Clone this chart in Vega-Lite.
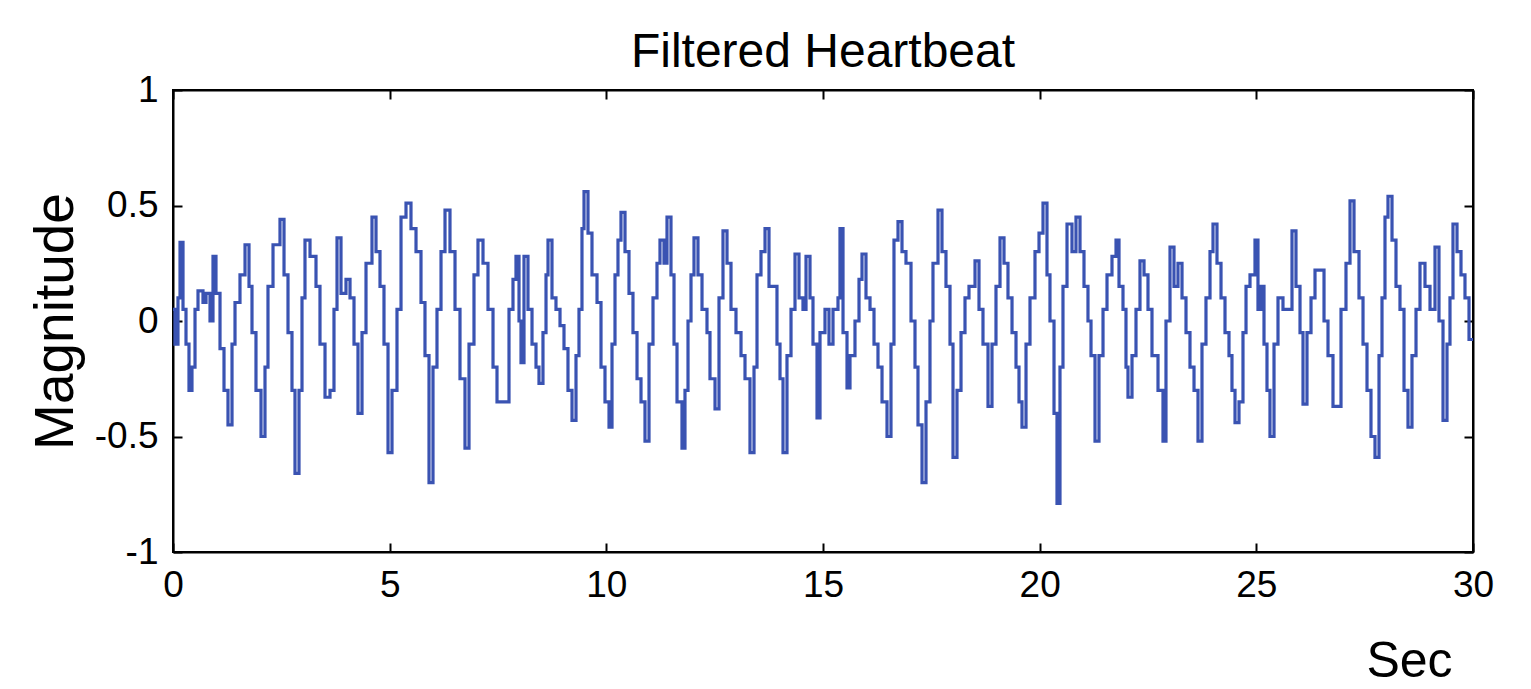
{
  "$schema": "https://vega.github.io/schema/vega-lite/v6.json",
  "width": 1300,
  "height": 462,
  "autosize": "none",
  "padding": {"left": 173, "top": 90, "right": 58, "bottom": 137},
  "background": "white",
  "title": {"text": "Filtered Heartbeat", "font": "Liberation Sans", "fontSize": 48, "fontWeight": "normal", "color": "black", "offset": -6, "anchor": "middle"},
  "config": {
    "view": {"stroke": "black", "strokeWidth": 2},
    "axis": {"grid": false, "labelFont": "Liberation Sans", "labelFontSize": 37, "labelColor": "black", "titleFont": "Liberation Sans", "titleFontSize": 50, "titleFontWeight": "normal", "titleColor": "black", "domainColor": "black", "domainWidth": 2, "tickColor": "black", "tickWidth": 2, "tickSize": -9}
  },
  "data": {"values": [
    {"t":0,"v":0.05},{"t":0.046,"v":-0.1},{"t":0.115,"v":0.1},{"t":0.162,"v":0.34},{"t":0.231,"v":0.05},{"t":0.3,"v":-0.1},{"t":0.369,"v":-0.3},{"t":0.438,"v":-0.2},{"t":0.508,"v":0.05},{"t":0.577,"v":0.13},{"t":0.692,"v":0.08},{"t":0.762,"v":0.12},{"t":0.854,"v":0.0},{"t":0.923,"v":0.28},{"t":0.992,"v":0.12},{"t":1.085,"v":-0.12},{"t":1.177,"v":-0.3},{"t":1.269,"v":-0.45},{"t":1.362,"v":-0.1},{"t":1.431,"v":0.08},{"t":1.546,"v":0.2},{"t":1.662,"v":0.33},{"t":1.754,"v":0.15},{"t":1.823,"v":-0.05},{"t":1.915,"v":-0.3},{"t":2.031,"v":-0.5},{"t":2.123,"v":-0.2},{"t":2.192,"v":0.15},{"t":2.308,"v":0.33},{"t":2.469,"v":0.44},{"t":2.562,"v":0.2},{"t":2.654,"v":-0.05},{"t":2.746,"v":-0.3},{"t":2.815,"v":-0.66},{"t":2.908,"v":-0.3},{"t":2.977,"v":0.1},{"t":3.046,"v":0.35},{"t":3.162,"v":0.28},{"t":3.3,"v":0.15},{"t":3.392,"v":-0.1},{"t":3.508,"v":-0.33},{"t":3.623,"v":-0.3},
    {"t":3.715,"v":0.05},{"t":3.785,"v":0.36},{"t":3.877,"v":0.12},{"t":3.992,"v":0.18},{"t":4.085,"v":0.1},{"t":4.177,"v":-0.1},{"t":4.269,"v":-0.4},{"t":4.362,"v":-0.05},{"t":4.454,"v":0.25},{"t":4.592,"v":0.45},{"t":4.685,"v":0.3},{"t":4.777,"v":0.15},{"t":4.869,"v":-0.1},{"t":4.962,"v":-0.57},{"t":5.054,"v":-0.3},{"t":5.169,"v":0.05},{"t":5.262,"v":0.45},{"t":5.377,"v":0.51},{"t":5.492,"v":0.4},{"t":5.608,"v":0.3},{"t":5.723,"v":0.08},{"t":5.815,"v":-0.15},{"t":5.908,"v":-0.7},{"t":6.0,"v":-0.2},{"t":6.092,"v":0.05},{"t":6.185,"v":0.3},{"t":6.277,"v":0.48},{"t":6.392,"v":0.3},{"t":6.508,"v":0.05},{"t":6.623,"v":-0.25},{"t":6.738,"v":-0.55},{"t":6.831,"v":-0.1},{"t":6.946,"v":0.2},{"t":7.038,"v":0.35},{"t":7.154,"v":0.25},{"t":7.269,"v":0.05},{"t":7.385,"v":-0.2},
    {"t":7.477,"v":-0.35},{"t":7.662,"v":-0.35},{"t":7.754,"v":0.05},{"t":7.846,"v":0.18},{"t":7.915,"v":0.28},{"t":7.985,"v":0.0},{"t":8.031,"v":-0.18},{"t":8.1,"v":0.28},{"t":8.192,"v":0.05},{"t":8.285,"v":-0.1},{"t":8.377,"v":-0.2},{"t":8.446,"v":-0.27},{"t":8.538,"v":-0.05},{"t":8.608,"v":0.2},{"t":8.654,"v":0.35},{"t":8.746,"v":0.1},{"t":8.838,"v":0.05},{"t":8.931,"v":-0.02},{"t":9.023,"v":-0.12},{"t":9.115,"v":-0.3},{"t":9.208,"v":-0.43},{"t":9.3,"v":-0.15},{"t":9.369,"v":0.05},{"t":9.438,"v":0.4},{"t":9.485,"v":0.56},{"t":9.577,"v":0.38},{"t":9.669,"v":0.2},{"t":9.785,"v":0.08},{"t":9.877,"v":-0.2},{"t":9.969,"v":-0.35},{"t":10.062,"v":-0.46},{"t":10.131,"v":-0.1},{"t":10.2,"v":0.2},{"t":10.269,"v":0.35},{"t":10.338,"v":0.47},{"t":10.431,"v":0.3},{"t":10.523,"v":0.12},{"t":10.615,"v":-0.05},{"t":10.708,"v":-0.25},{"t":10.8,"v":-0.35},{"t":10.892,"v":-0.52},{"t":10.985,"v":-0.1},{"t":11.077,"v":0.1},{"t":11.169,"v":0.25},{"t":11.238,"v":0.35},
    {"t":11.331,"v":0.25},{"t":11.4,"v":0.45},{"t":11.492,"v":0.2},{"t":11.562,"v":-0.1},{"t":11.631,"v":-0.35},{"t":11.746,"v":-0.55},{"t":11.815,"v":-0.3},{"t":11.885,"v":0.0},{"t":11.954,"v":0.2},{"t":12.023,"v":0.36},{"t":12.115,"v":0.2},{"t":12.208,"v":0.05},{"t":12.323,"v":-0.05},{"t":12.392,"v":-0.25},{"t":12.508,"v":-0.38},{"t":12.6,"v":0.1},{"t":12.692,"v":0.39},{"t":12.785,"v":0.25},{"t":12.877,"v":0.05},{"t":12.992,"v":-0.05},{"t":13.108,"v":-0.15},{"t":13.2,"v":-0.25},{"t":13.315,"v":-0.57},{"t":13.408,"v":-0.2},{"t":13.477,"v":0.2},{"t":13.569,"v":0.3},{"t":13.662,"v":0.4},{"t":13.754,"v":0.15},{"t":13.846,"v":0.15},{"t":13.938,"v":-0.1},{"t":14.008,"v":-0.25},{"t":14.077,"v":-0.57},{"t":14.169,"v":-0.15},{"t":14.262,"v":0.05},{"t":14.354,"v":0.29},{"t":14.446,"v":0.1},{"t":14.538,"v":0.05},{"t":14.608,"v":0.28},{"t":14.7,"v":0.1},{"t":14.769,"v":-0.1},{"t":14.862,"v":-0.42},{"t":14.931,"v":-0.05},{"t":15.046,"v":0.05},
    {"t":15.138,"v":-0.1},{"t":15.231,"v":0.05},{"t":15.346,"v":0.1},{"t":15.392,"v":0.4},{"t":15.462,"v":-0.05},{"t":15.554,"v":-0.29},{"t":15.623,"v":-0.15},{"t":15.738,"v":0.0},{"t":15.831,"v":0.18},{"t":15.9,"v":0.29},{"t":15.992,"v":0.1},{"t":16.085,"v":0.05},{"t":16.177,"v":-0.1},{"t":16.269,"v":-0.2},{"t":16.362,"v":-0.35},{"t":16.477,"v":-0.5},{"t":16.569,"v":-0.1},{"t":16.638,"v":0.35},{"t":16.731,"v":0.43},{"t":16.823,"v":0.3},{"t":16.915,"v":0.25},{"t":17.031,"v":0.0},{"t":17.123,"v":-0.2},{"t":17.192,"v":-0.45},{"t":17.285,"v":-0.7},{"t":17.377,"v":-0.35},{"t":17.469,"v":0.0},{"t":17.538,"v":0.25},{"t":17.654,"v":0.48},{"t":17.746,"v":0.3},{"t":17.838,"v":0.15},{"t":17.931,"v":-0.1},{"t":18.0,"v":-0.59},{"t":18.092,"v":-0.3},{"t":18.185,"v":-0.05},{"t":18.277,"v":0.1},{"t":18.369,"v":0.15},{"t":18.508,"v":0.26},{"t":18.6,"v":0.05},{"t":18.692,"v":-0.1},{"t":18.808,"v":-0.37},{"t":18.9,"v":-0.1},
    {"t":18.992,"v":0.15},{"t":19.085,"v":0.36},{"t":19.177,"v":0.25},{"t":19.269,"v":0.1},{"t":19.362,"v":-0.05},{"t":19.454,"v":-0.2},{"t":19.523,"v":-0.35},{"t":19.592,"v":-0.46},{"t":19.685,"v":-0.1},{"t":19.777,"v":0.1},{"t":19.892,"v":0.3},{"t":19.985,"v":0.38},{"t":20.077,"v":0.51},{"t":20.169,"v":0.2},{"t":20.238,"v":0.0},{"t":20.331,"v":-0.4},{"t":20.4,"v":-0.79},{"t":20.469,"v":-0.2},{"t":20.538,"v":0.15},{"t":20.631,"v":0.42},{"t":20.746,"v":0.3},{"t":20.838,"v":0.45},{"t":20.931,"v":0.3},{"t":21.023,"v":0.15},{"t":21.115,"v":0.0},{"t":21.185,"v":-0.15},{"t":21.277,"v":-0.52},{"t":21.369,"v":-0.15},{"t":21.462,"v":0.05},{"t":21.554,"v":0.2},{"t":21.669,"v":0.28},{"t":21.762,"v":0.35},{"t":21.831,"v":0.15},{"t":21.923,"v":0.05},{"t":21.992,"v":-0.2},{"t":22.038,"v":-0.33},{"t":22.131,"v":-0.15},{"t":22.223,"v":0.05},{"t":22.315,"v":0.26},{"t":22.408,"v":0.2},{"t":22.5,"v":0.05},{"t":22.592,"v":-0.15},
    {"t":22.731,"v":-0.3},{"t":22.846,"v":-0.52},{"t":22.915,"v":0.0},{"t":23.008,"v":0.32},{"t":23.1,"v":0.15},{"t":23.192,"v":0.25},{"t":23.285,"v":0.1},{"t":23.377,"v":-0.05},{"t":23.469,"v":-0.2},{"t":23.562,"v":-0.3},{"t":23.654,"v":-0.52},{"t":23.746,"v":-0.1},{"t":23.838,"v":0.1},{"t":23.931,"v":0.3},{"t":24.0,"v":0.42},{"t":24.092,"v":0.25},{"t":24.185,"v":0.1},{"t":24.277,"v":-0.05},{"t":24.369,"v":-0.15},{"t":24.438,"v":-0.3},{"t":24.508,"v":-0.44},{"t":24.6,"v":-0.35},{"t":24.692,"v":-0.05},{"t":24.762,"v":0.15},{"t":24.854,"v":0.2},{"t":24.969,"v":0.35},{"t":25.038,"v":0.05},{"t":25.108,"v":0.15},{"t":25.177,"v":-0.1},{"t":25.246,"v":-0.3},{"t":25.315,"v":-0.5},{"t":25.408,"v":-0.1},{"t":25.5,"v":0.1},{"t":25.615,"v":0.05},{"t":25.731,"v":0.05},{"t":25.823,"v":0.39},{"t":25.915,"v":0.15},{"t":26.008,"v":-0.05},{"t":26.077,"v":-0.36},{"t":26.169,"v":-0.05},{"t":26.262,"v":0.1},{"t":26.354,"v":0.22},
    {"t":26.469,"v":0.22},{"t":26.562,"v":0.0},{"t":26.654,"v":-0.15},{"t":26.769,"v":-0.37},{"t":26.862,"v":-0.37},{"t":26.954,"v":0.05},{"t":27.069,"v":0.25},{"t":27.162,"v":0.52},{"t":27.254,"v":0.3},{"t":27.369,"v":0.1},{"t":27.462,"v":-0.1},{"t":27.554,"v":-0.3},{"t":27.646,"v":-0.5},{"t":27.738,"v":-0.59},{"t":27.831,"v":-0.15},{"t":27.9,"v":0.1},{"t":27.969,"v":0.45},{"t":28.038,"v":0.54},{"t":28.131,"v":0.35},{"t":28.223,"v":0.15},{"t":28.315,"v":0.05},{"t":28.408,"v":-0.3},{"t":28.5,"v":-0.46},{"t":28.592,"v":-0.15},{"t":28.685,"v":0.05},{"t":28.777,"v":0.25},{"t":28.892,"v":0.15},{"t":29.008,"v":0.05},{"t":29.123,"v":0.32},{"t":29.215,"v":0.0},{"t":29.308,"v":-0.43},{"t":29.4,"v":-0.1},{"t":29.469,"v":0.1},{"t":29.538,"v":0.42},{"t":29.631,"v":0.3},{"t":29.723,"v":0.2},{"t":29.815,"v":0.1},{"t":29.908,"v":-0.08},{"t":30.0,"v":-0.08}
  ]},
  "layer": [
    {
      "mark": {"type": "line", "interpolate": "step-after", "color": "#3a53b2", "strokeWidth": 3.2},
      "encoding": {
        "x": {"field": "t", "type": "quantitative", "scale": {"domain": [0, 30], "nice": false},
              "axis": {"orient": "bottom", "title": "Sec", "values": [0, 5, 10, 15, 20, 25, 30], "labelFlush": false, "labelPadding": 24, "titleAlign": "center", "titleBaseline": "alphabetic", "titleX": 1236, "titleY": 124}},
        "y": {"field": "v", "type": "quantitative", "scale": {"domain": [-1, 1], "nice": false},
              "axis": {"orient": "left", "title": "Magnitude", "titleFontSize": 55, "values": [-1, -0.5, 0, 0.5, 1], "labelFlush": false, "labelPadding": 24, "labelExpr": "'' + datum.value", "titlePadding": 10}}
      }
    },
    {
      "mark": {"type": "line", "opacity": 0},
      "encoding": {
        "x": {"field": "t", "type": "quantitative", "axis": {"orient": "top", "title": null, "labels": false, "values": [0, 5, 10, 15, 20, 25, 30]}},
        "y": {"field": "v", "type": "quantitative", "axis": {"orient": "right", "title": null, "labels": false, "values": [-1, -0.5, 0, 0.5, 1]}}
      }
    }
  ],
  "resolve": {"axis": {"x": "independent", "y": "independent"}}
}
